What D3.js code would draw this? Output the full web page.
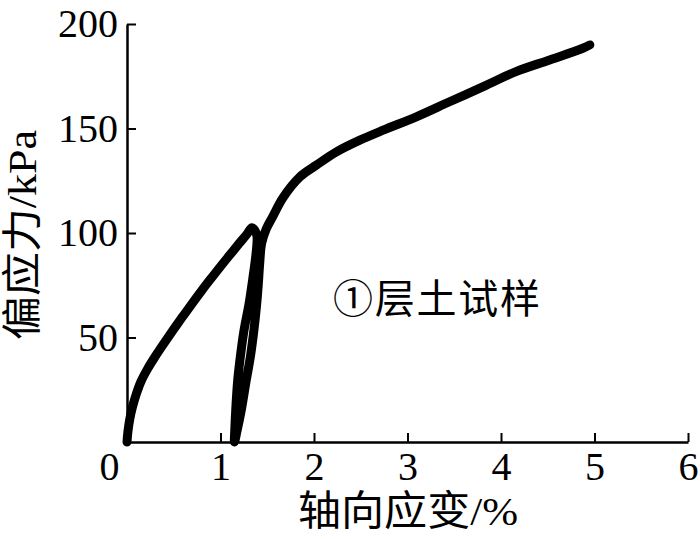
<!DOCTYPE html>
<html>
<head>
<meta charset="utf-8">
<script src="https://cdn.jsdelivr.net/npm/d3@7.9.0/dist/d3.min.js"></script>
<style>
  body { margin: 0; background: #fff; }
  svg { display: block; }
  text { font-family: "Liberation Serif", "Noto Sans CJK SC", serif; fill: #000; }
</style>
</head>
<body>
<svg id="chart" width="700" height="539"></svg>
<script>
// loading branch up to the peak (and the small drop after it)
const loadStrain = [0, 0.01, 0.03, 0.06, 0.1, 0.15, 0.22, 0.3, 0.4, 0.5, 0.6, 0.7, 0.8, 0.9, 1.0, 1.1, 1.2, 1.28, 1.335, 1.365, 1.39];
const loadStress = [0, 5, 11, 17, 23, 29, 35, 40.8, 47.5, 54, 60.3, 66.5, 72.5, 78.3, 84, 89.5, 95, 99.3, 102.5, 101.5, 98.5];
// unloading branch
const unloadStrain = [1.39, 1.375, 1.345, 1.305, 1.25, 1.21, 1.183, 1.165, 1.155, 1.15];
const unloadStress = [95, 88, 78, 66, 53, 40, 29, 17, 8, 0];
// reloading and the rest of the curve
const reloadStrain = [1.175, 1.215, 1.275, 1.32, 1.357, 1.385, 1.405, 1.42, 1.44, 1.49, 1.56, 1.67, 1.848, 2.027, 2.24, 2.49, 2.74, 3.095, 3.45, 3.81, 4.16, 4.52, 4.875, 4.95];
const reloadStress = [5, 13.5, 29.4, 41, 53.4, 65, 76, 86, 95, 102, 108, 117, 126.8, 132.5, 138.8, 144.4, 149.2, 155.6, 162.8, 170, 177.2, 182.8, 188.4, 190];

const xTicks = [0, 1, 2, 3, 4, 5, 6];
const yTicks = [50, 100, 150, 200];

const svg = d3.select('#chart');

const x = d3.scaleLinear().domain([0, 6]).range([127, 688]);
const y = d3.scaleLinear().domain([0, 200]).range([442, 24]);

const pts = [];
loadStrain.forEach((s, i) => pts.push([s, loadStress[i]]));
unloadStrain.forEach((s, i) => pts.push([s, unloadStress[i]]));
reloadStrain.forEach((s, i) => pts.push([s, reloadStress[i]]));

// axes, ticks pointing inward
const xAxis = svg.append('g')
  .attr('transform', `translate(0,${y(0)})`)
  .call(d3.axisBottom(x).tickValues(xTicks).tickFormat(d3.format('d'))
    .tickSizeInner(-9).tickSizeOuter(0).tickPadding(10));

const yAxis = svg.append('g')
  .attr('transform', `translate(${x(0)},0)`)
  .call(d3.axisLeft(y).tickValues(yTicks).tickFormat(d3.format('d'))
    .tickSizeInner(-9).tickSizeOuter(0).tickPadding(9));

[xAxis, yAxis].forEach(g => {
  g.select('.domain').attr('stroke', '#000').attr('stroke-width', 2.5);
  g.selectAll('.tick line').attr('stroke', '#000').attr('stroke-width', 2);
  g.selectAll('.tick text').attr('font-size', 40).attr('font-family', '"Liberation Serif", serif');
});
// the 0 sits left of the origin
xAxis.selectAll('.tick text').filter(d => d === 0).attr('dx', -18);

// curve
svg.append('path')
  .datum(pts)
  .attr('fill', 'none')
  .attr('stroke', '#000')
  .attr('stroke-width', 9)
  .attr('stroke-linejoin', 'round')
  .attr('stroke-linecap', 'round')
  .attr('d', d3.line().x(d => x(d[0])).y(d => y(d[1])).curve(d3.curveCatmullRom.alpha(0.5)));

// titles
svg.append('text')
  .attr('x', 298).attr('y', 525)
  .attr('font-size', 41)
  .attr('textLength', 220)
  .attr('lengthAdjust', 'spacingAndGlyphs')
  .text('轴向应变/%');

svg.append('text')
  .attr('transform', 'translate(36,340) rotate(-90)')
  .attr('font-size', 40)
  .attr('textLength', 210)
  .attr('lengthAdjust', 'spacingAndGlyphs')
  .text('偏应力/kPa');

svg.append('text')
  .attr('x', 333).attr('y', 313)
  .attr('font-size', 40)
  .attr('textLength', 207)
  .text('①层土试样');
</script>
</body>
</html>
